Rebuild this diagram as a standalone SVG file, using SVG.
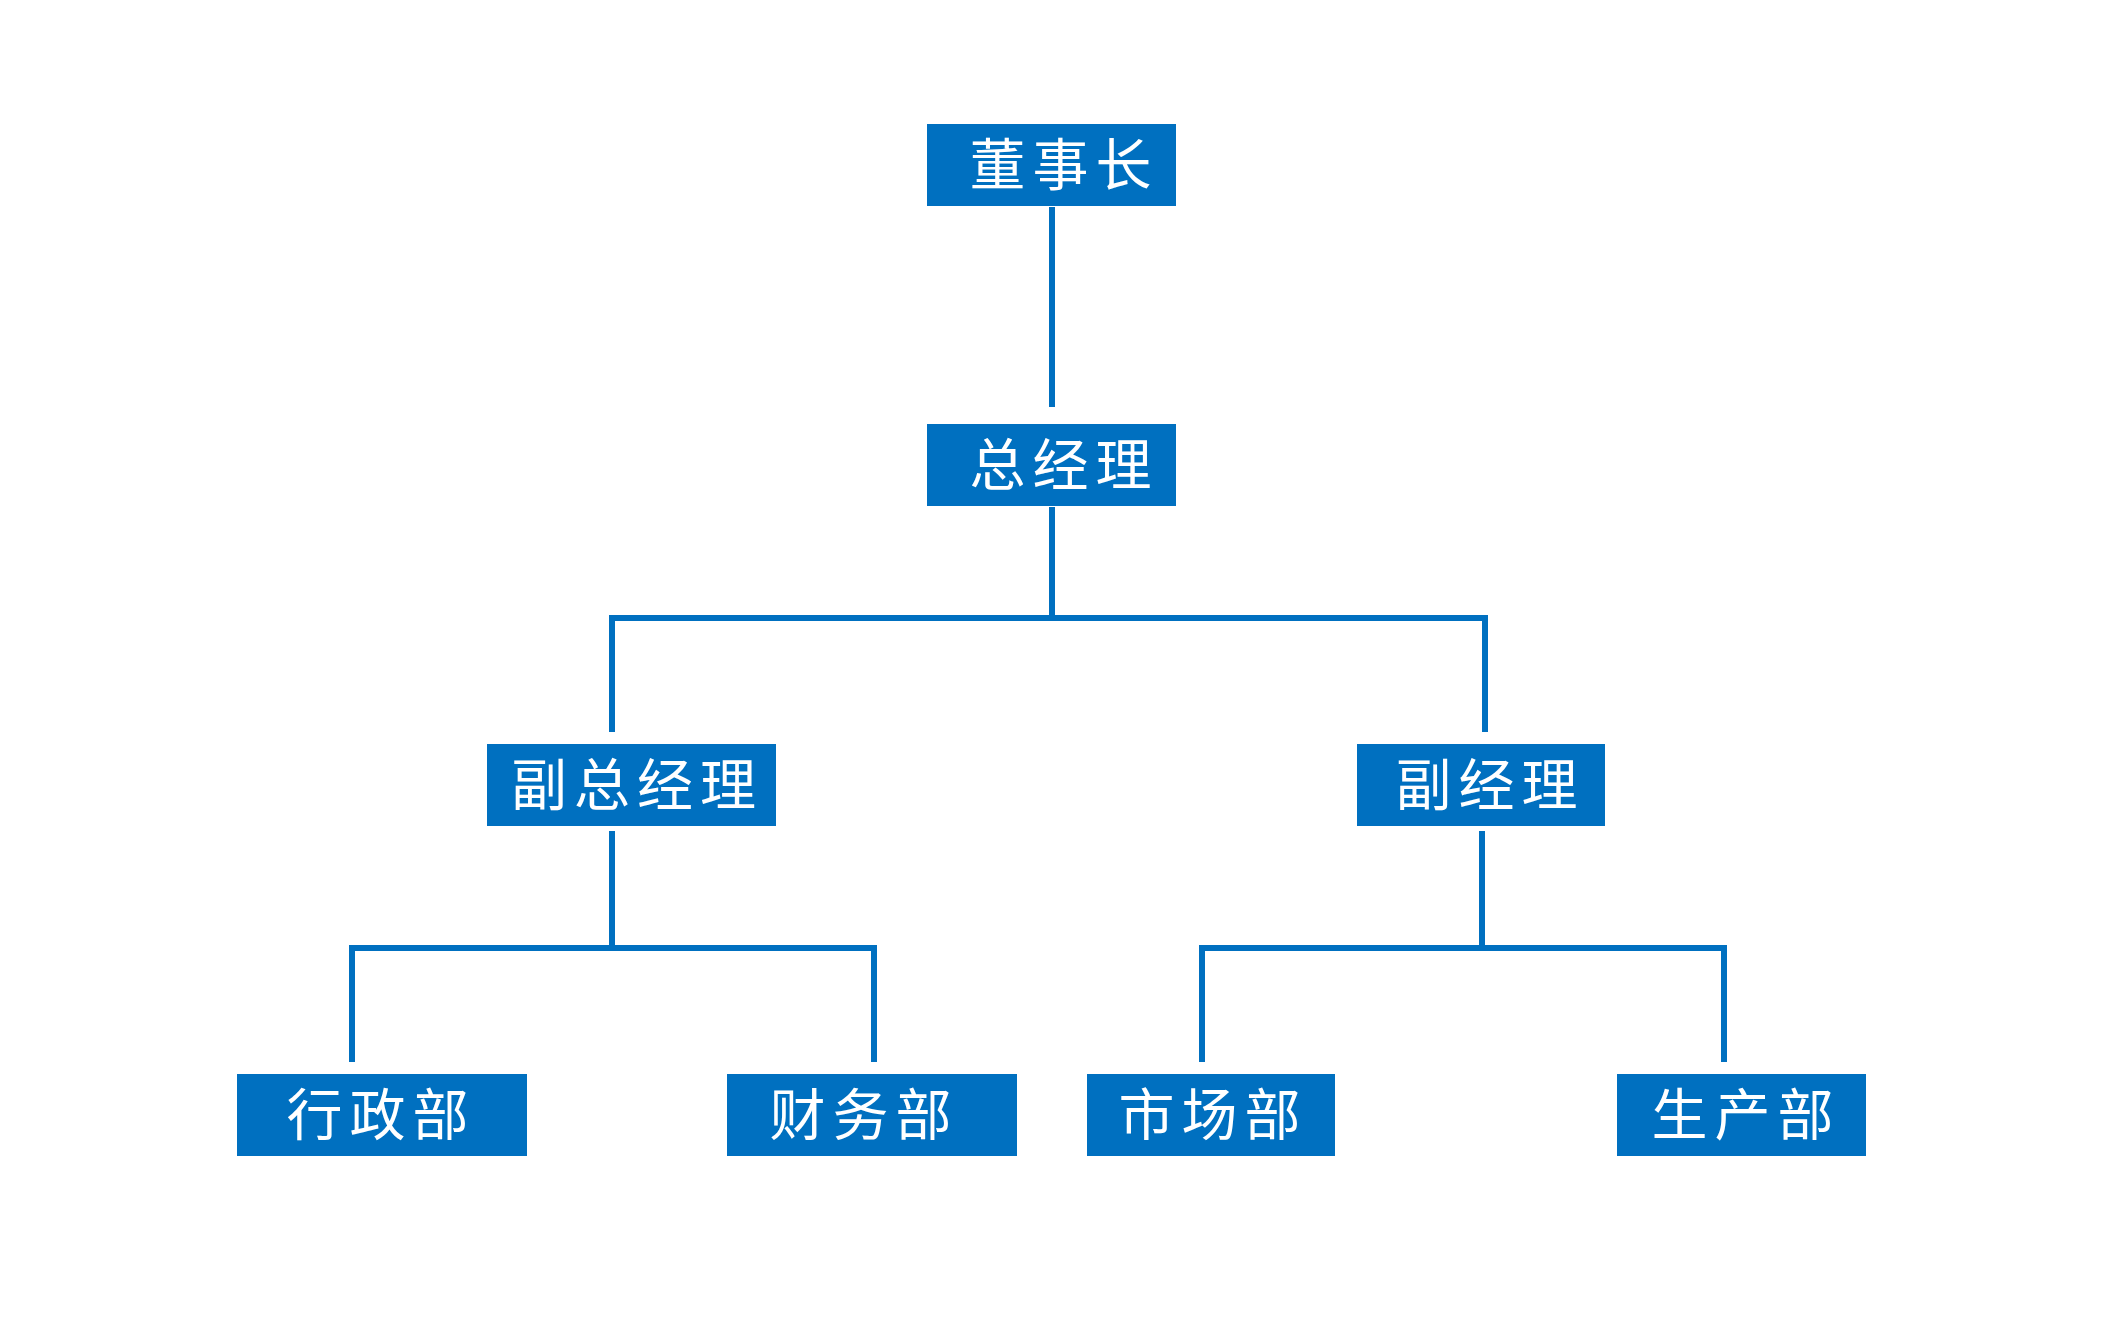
<svg xmlns="http://www.w3.org/2000/svg" width="2127" height="1323" viewBox="0 0 2127 1323">
<style>
.box{fill:#0070C0}
.lbl{fill:#ffffff;font-family:"Noto Sans CJK SC","Noto Sans",sans-serif;font-size:56px;letter-spacing:7px;text-anchor:middle}
.con{fill:none;stroke:#0070C0;stroke-width:6}
</style>
<rect width="2127" height="1323" fill="#ffffff"/>
<g id="connectors">
<path class="con" d="M1052 207V407"/>
<path class="con" d="M1052 507V618M609 618H1488M612 615V732M1485 615V732"/>
<path class="con" d="M612 831V948M349 948H877M352 945V1062M874 945V1062"/>
<path class="con" d="M1482 831V948M1199 948H1727M1202 945V1062M1724 945V1062"/>
</g>
<g id="n-dongshizhang"><rect class="box" x="927" y="124" width="249" height="82"/><text class="lbl" x="1064" y="185">董事长</text></g>
<g id="n-zongjingli"><rect class="box" x="927" y="424" width="249" height="82"/><text class="lbl" x="1064" y="485">总经理</text></g>
<g id="n-fuzongjingli"><rect class="box" x="487" y="744" width="289" height="82"/><text class="lbl" x="637" y="805">副总经理</text></g>
<g id="n-fujingli"><rect class="box" x="1357" y="744" width="248" height="82"/><text class="lbl" x="1490" y="805">副经理</text></g>
<g id="n-xingzhengbu"><rect class="box" x="237" y="1074" width="290" height="82"/><text class="lbl" x="381" y="1135">行政部</text></g>
<g id="n-caiwubu"><rect class="box" x="727" y="1074" width="290" height="82"/><text class="lbl" x="864" y="1135">财务部</text></g>
<g id="n-shichangbu"><rect class="box" x="1087" y="1074" width="248" height="82"/><text class="lbl" x="1213" y="1135">市场部</text></g>
<g id="n-shengchanbu"><rect class="box" x="1617" y="1074" width="249" height="82"/><text class="lbl" x="1746" y="1135">生产部</text></g>
</svg>
